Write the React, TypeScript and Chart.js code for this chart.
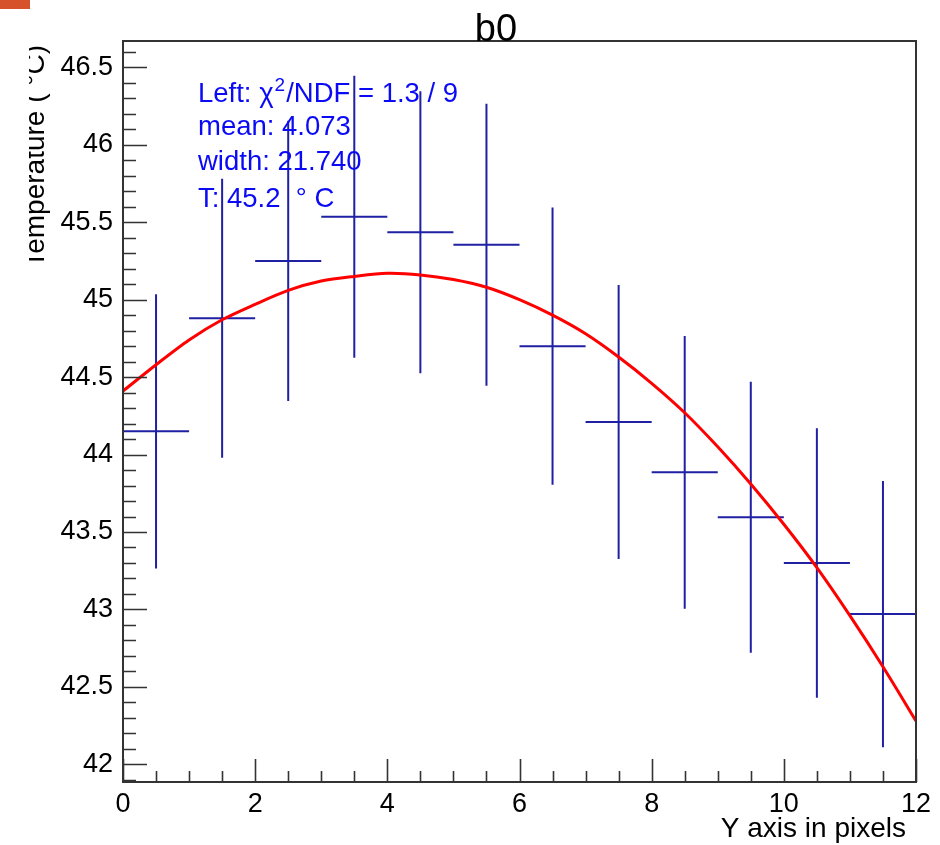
import React, { useEffect, useRef } from 'react';
import { Chart, registerables } from 'chart.js';

Chart.register(...registerables);

// ---- data ----
const binCenters = [0.5, 1.5, 2.5, 3.5, 4.5, 5.5, 6.5, 7.5, 8.5, 9.5, 10.5, 11.5];
const binHalfWidths = [0.5, 0.5, 0.5, 0.5, 0.5, 0.5, 0.5, 0.5, 0.5, 0.5, 0.5, 0.5];
const binValues = [44.15, 44.88, 45.25, 45.535, 45.435, 45.355, 44.70, 44.21, 43.885, 43.595, 43.30, 42.97];
const binErrors = [0.885, 0.90, 0.905, 0.91, 0.91, 0.91, 0.895, 0.885, 0.88, 0.875, 0.87, 0.86];

const fitX = [0, 0.5, 1, 1.5, 2, 2.5, 3, 3.5, 4, 4.5, 5, 5.5, 6, 6.5, 7, 7.5, 8, 8.5, 9, 9.5, 10, 10.5, 11, 11.5, 12];
const fitY = [44.41, 44.58, 44.74, 44.87, 44.97, 45.06, 45.12, 45.15, 45.17, 45.16, 45.13, 45.08, 45.0, 44.9, 44.78, 44.63, 44.46, 44.27, 44.05, 43.81, 43.55, 43.27, 42.96, 42.63, 42.28];

const xRange = [0, 12];
const yRange = [41.886, 46.67];
const xTickValues = [0, 2, 4, 6, 8, 10, 12];
const xTickLabels = ['0', '2', '4', '6', '8', '10', '12'];
const yTickValues = [42, 42.5, 43, 43.5, 44, 44.5, 45, 45.5, 46, 46.5];
const yTickLabels = ['42', '42.5', '43', '43.5', '44', '44.5', '45', '45.5', '46', '46.5'];
const xMinorStep = 0.5;
const yMinorStep = 0.1;

const titleText = 'b0';
const xTitleText = 'Y axis in pixels';
const yTitleText = 'Temperature ( °C)';
// stats lines: [text before superscript, superscript, text after]
const statsLines: [string, string, string][] = [
  ['Left: χ', '2', '/NDF = 1.3 / 9'],
  ['mean: 4.073', '', ''],
  ['width: 21.740', '', ''],
  ['T: 45.2  ° C', '', ''],
];

const FONT = '"Liberation Sans", Arial, Helvetica, sans-serif';

const rootPlugin = {
  id: 'rootDecor',
  beforeDraw(chart: any) {
    const ctx = chart.ctx;
    ctx.save();
    ctx.fillStyle = '#ffffff';
    ctx.fillRect(0, 0, chart.width, chart.height);
    ctx.fillStyle = '#d5522a';
    ctx.fillRect(0, 0, 30, 9);
    ctx.restore();
  },
  beforeDatasetsDraw(chart: any) {
    const ctx = chart.ctx;
    const xs = chart.scales.x;
    const ys = chart.scales.y;
    const pts = chart.data.datasets[1].data;
    ctx.save();
    ctx.strokeStyle = '#2020a4';
    ctx.lineWidth = 2;
    pts.forEach((p: any, i: number) => {
      const cx = xs.getPixelForValue(p.x);
      const cy = ys.getPixelForValue(p.y);
      const xl = xs.getPixelForValue(p.x - binHalfWidths[i]);
      const xr = xs.getPixelForValue(p.x + binHalfWidths[i]);
      const yt = ys.getPixelForValue(p.y + binErrors[i]);
      const yb = ys.getPixelForValue(p.y - binErrors[i]);
      ctx.beginPath();
      ctx.moveTo(xl, cy);
      ctx.lineTo(xr, cy);
      ctx.moveTo(cx, yt);
      ctx.lineTo(cx, yb);
      ctx.stroke();
    });
    ctx.restore();
  },
  afterDraw(chart: any) {
    const ctx = chart.ctx;
    const a = chart.chartArea;
    const xs = chart.scales.x;
    const ys = chart.scales.y;
    ctx.save();
    // ticks
    ctx.strokeStyle = '#333333';
    ctx.lineWidth = 1.6;
    ctx.beginPath();
    const nY = Math.round((yRange[1] - yRange[0]) / yMinorStep) + 2;
    const y0 = Math.ceil(yRange[0] / yMinorStep - 1e-6);
    for (let k = 0; k < nY; k++) {
      const v = (y0 + k) * yMinorStep;
      if (v > yRange[1] + 1e-9) break;
      const major = yTickValues.some((t) => Math.abs(t - v) < 1e-6);
      const py = Math.round(ys.getPixelForValue(v)) + 0.5;
      ctx.moveTo(a.left, py);
      ctx.lineTo(a.left + (major ? 24 : 13), py);
    }
    const nX = Math.round((xRange[1] - xRange[0]) / xMinorStep);
    for (let k = 0; k <= nX; k++) {
      const v = xRange[0] + k * xMinorStep;
      const major = xTickValues.some((t) => Math.abs(t - v) < 1e-6);
      const px = Math.round(xs.getPixelForValue(v)) + 0.5;
      ctx.moveTo(px, a.bottom);
      ctx.lineTo(px, a.bottom - (major ? 23 : 11));
    }
    ctx.stroke();
    // frame
    ctx.lineWidth = 2;
    ctx.strokeRect(a.left, a.top, a.right - a.left, a.bottom - a.top);

    // title
    ctx.fillStyle = '#000000';
    ctx.font = `38px ${FONT}`;
    ctx.textAlign = 'center';
    ctx.textBaseline = 'alphabetic';
    ctx.fillText(titleText, 496, 41);

    // x title
    ctx.font = `28px ${FONT}`;
    ctx.textAlign = 'right';
    ctx.fillText(xTitleText, 906, 837);

    // y title (clipped like the reference)
    ctx.save();
    ctx.beginPath();
    ctx.rect(29, 0, 100, chart.height);
    ctx.clip();
    ctx.translate(44, 45);
    ctx.rotate(-Math.PI / 2);
    ctx.font = `28px ${FONT}`;
    ctx.textAlign = 'right';
    ctx.fillText(yTitleText, 0, 0);
    ctx.restore();

    // stats text
    ctx.fillStyle = '#0a0af5';
    ctx.textAlign = 'left';
    const baselines = [102, 135, 170, 207];
    const mainFont = `27.5px ${FONT}`;
    const supFont = `19px ${FONT}`;
    statsLines.forEach((parts, i) => {
      let x = 198;
      ctx.font = mainFont;
      ctx.fillText(parts[0], x, baselines[i]);
      x += ctx.measureText(parts[0]).width + 1;
      if (parts[1]) {
        ctx.font = supFont;
        ctx.fillText(parts[1], x, baselines[i] - 11);
        x += ctx.measureText(parts[1]).width + 1;
      }
      if (parts[2]) {
        ctx.font = mainFont;
        ctx.fillText(parts[2], x, baselines[i]);
      }
    });
    ctx.restore();
  },
};

export default function App() {
  const ref = useRef<HTMLCanvasElement | null>(null);
  useEffect(() => {
    if (!ref.current) return;
    const tickFont = { family: FONT, size: 27 };
    const chart = new Chart(ref.current, {
      type: 'scatter',
      data: {
        datasets: [
          {
            label: 'fit',
            data: fitX.map((x, i) => ({ x, y: fitY[i] })),
            showLine: true,
            borderColor: '#ff0000',
            borderWidth: 3,
            pointRadius: 0,
            tension: 0.3,
          },
          {
            label: 'data',
            data: binCenters.map((x, i) => ({ x, y: binValues[i] })),
            pointRadius: 0,
            showLine: false,
          },
        ],
      },
      options: {
        animation: false,
        responsive: false,
        devicePixelRatio: 1,
        layout: { padding: { left: 0, top: 41, right: 24, bottom: 0 } },
        plugins: { legend: { display: false }, tooltip: { enabled: false }, title: { display: false } },
        scales: {
          x: {
            type: 'linear',
            min: xRange[0],
            max: xRange[1],
            grid: { display: false, drawTicks: false },
            border: { display: false },
            afterFit: (s: any) => { s.height = 63; },
            afterBuildTicks: (s: any) => { s.ticks = xTickValues.map((v) => ({ value: v })); },
            ticks: {
              autoSkip: false,
              maxRotation: 0,
              padding: 6,
              color: '#000',
              font: tickFont,
              callback: (v: any) => {
                const i = xTickValues.findIndex((t) => Math.abs(t - v) < 1e-9);
                return i >= 0 ? xTickLabels[i] : '';
              },
            },
          },
          y: {
            type: 'linear',
            min: yRange[0],
            max: yRange[1],
            grid: { display: false, drawTicks: false },
            border: { display: false },
            afterFit: (s: any) => { s.width = 123; },
            afterBuildTicks: (s: any) => { s.ticks = yTickValues.map((v) => ({ value: v })); },
            ticks: {
              autoSkip: false,
              padding: 10,
              color: '#000',
              font: tickFont,
              callback: (v: any) => {
                const i = yTickValues.findIndex((t) => Math.abs(t - v) < 1e-9);
                return i >= 0 ? yTickLabels[i] : '';
              },
            },
          },
        },
      },
      plugins: [rootPlugin],
    } as any);
    return () => chart.destroy();
  }, []);
  return (
    <div style={{ position: 'fixed', left: 0, top: 0, width: 940, height: 845, background: '#fff' }}>
      <canvas ref={ref} width={940} height={845} style={{ display: 'block' }} />
    </div>
  );
}
